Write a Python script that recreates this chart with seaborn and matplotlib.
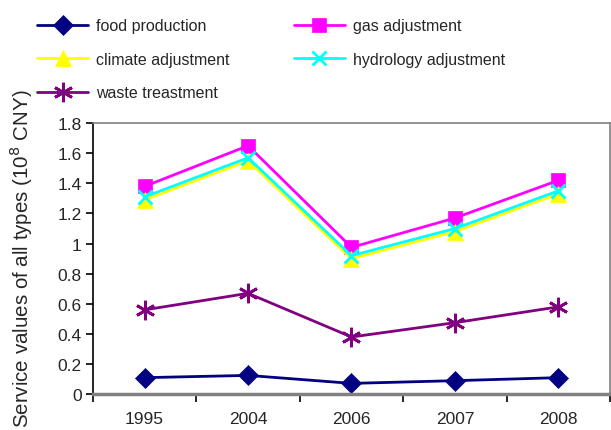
import numpy as np
import pandas as pd
import seaborn as sns
import matplotlib.pyplot as plt
from matplotlib.ticker import FixedLocator

years = ['1995', '2004', '2006', '2007', '2008']
food = [0.11, 0.125, 0.072, 0.09, 0.11]
gas = [1.38, 1.65, 0.975, 1.17, 1.42]
climate = [1.29, 1.55, 0.90, 1.08, 1.33]
hydrology = [1.31, 1.57, 0.92, 1.10, 1.35]
waste = [0.56, 0.67, 0.38, 0.475, 0.58]

sns.set_theme(style='white')
plt.rcParams['font.family'] = ['Liberation Sans', 'DejaVu Sans']

fig = plt.figure(figsize=(6.11, 4.31), dpi=100)
ax = fig.add_axes([0.152, 0.083, 0.8465, 0.629])

series = [
    ('food production', food, '#000080', 'D', 10),
    ('gas adjustment', gas, '#FF00FF', 's', 10.5),
    ('climate adjustment', climate, '#FFFF00', '^', 12),
    ('hydrology adjustment', hydrology, '#00FFFF', 'x', 10),
    ('waste treastment', waste, '#800080', (6, 2, 0), 14),
]
handles = {}
for name, vals, col, mk, ms in series:
    df = pd.DataFrame({'year': years, 'value': vals})
    sns.lineplot(data=df, x='year', y='value', ax=ax, color=col, marker=mk,
                 markersize=ms, markeredgecolor=col,
                 markeredgewidth=2 if mk in ('x', (6, 2, 0)) else 0.5,
                 linewidth=2, label=name, legend=False)
    handles[name] = ax.lines[-1]

ax.set_xlim(-0.5, 4.5)
ax.set_ylim(0, 1.8)
ax.set_yticks(np.arange(0, 1.81, 0.2))
ax.set_yticklabels(['0', '0.2', '0.4', '0.6', '0.8', '1', '1.2', '1.4', '1.6', '1.8'])
ax.set_xlabel('')
ax.set_ylabel('Service values of all types (10$^8$ CNY)', fontsize=14.8)
ax.yaxis.set_label_coords(-0.112, 0.505)
ax.tick_params(axis='y', direction='out', length=5, width=1.2, color='black',
               labelsize=12.5, left=True, pad=3)
ax.tick_params(axis='x', which='major', length=0, labelsize=12.5, pad=12)
ax.xaxis.set_minor_locator(FixedLocator(np.arange(-0.5, 4.6, 1)))
ax.tick_params(axis='x', which='minor', direction='out', length=6, width=1.2,
               color='black', bottom=True)

for s in ['top', 'right']:
    ax.spines[s].set_color('#808080')
    ax.spines[s].set_linewidth(1.2)
ax.spines['left'].set_color('black')
ax.spines['left'].set_linewidth(1.2)
ax.spines['bottom'].set_color('#808080')
ax.spines['bottom'].set_linewidth(2.5)

order = ['food production', 'climate adjustment', 'waste treastment',
         'gas adjustment', 'hydrology adjustment']
fig.legend([handles[n] for n in order], order, ncol=2, loc='upper left',
           bbox_to_anchor=(0.04, 0.985), frameon=False, fontsize=11.5,
           handlelength=3.2, handletextpad=0.5, labelspacing=1.16,
           columnspacing=4.0, borderaxespad=0.4)

fig.savefig('out.png', dpi=100)
